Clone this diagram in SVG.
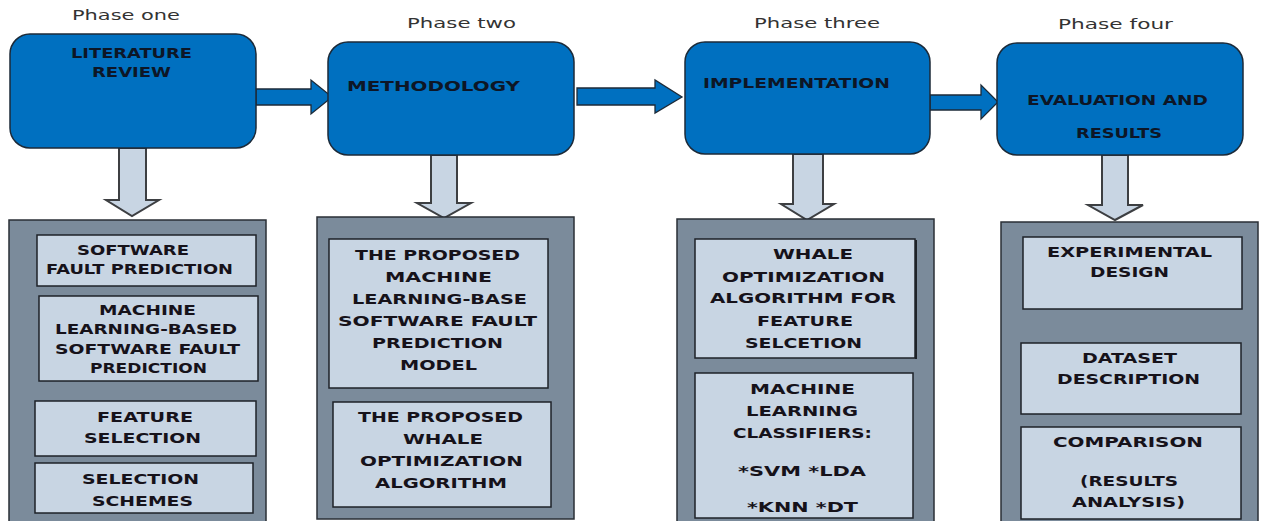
<svg xmlns="http://www.w3.org/2000/svg" width="1261" height="521" viewBox="0 0 1261 521">
<style>
.phase{font-family:"DejaVu Sans","Verdana",sans-serif;font-size:13.5px;fill:#333;}
.main{fill:#0070C0;stroke:#1c2a38;stroke-width:1.5;}
.mt{font-family:"DejaVu Sans",sans-serif;font-weight:bold;font-size:14.5px;fill:#0d1626;}
.outer{fill:#7b8b9b;stroke:#2a2f36;stroke-width:1.5;}
.inner{fill:#c8d5e3;stroke:#1e2228;stroke-width:1.5;}
.it{font-family:"DejaVu Sans",sans-serif;font-weight:bold;font-size:14.5px;fill:#16121a;text-anchor:middle;}
.harrow{fill:#0070C0;stroke:#1c2a38;stroke-width:1.3;}
.varrow{fill:#c8d5e3;stroke:#3d3f42;stroke-width:2;}
</style>
<rect width="1261" height="521" fill="#ffffff"/>

<g id="phase-labels">
<text class="phase" x="72" y="19.5" textLength="108" lengthAdjust="spacingAndGlyphs">Phase one</text>
<text class="phase" x="407" y="28" textLength="109" lengthAdjust="spacingAndGlyphs">Phase two</text>
<text class="phase" x="754" y="28" textLength="126" lengthAdjust="spacingAndGlyphs">Phase three</text>
<text class="phase" x="1058" y="29" textLength="115" lengthAdjust="spacingAndGlyphs">Phase four</text>
</g>

<g id="connectors">
<polygon class="harrow" points="256,89 311,89 311,80 332,97 311,114 311,105 256,105"/>
<polygon class="harrow" points="577,88 655,88 655,80 682,97 655,113 655,105 577,105"/>
<polygon class="harrow" points="930,95 981,95 981,85 998,102 981,119 981,110 930,110"/>
<polygon class="varrow" points="119,148 146,148 146,200 159,200 132,216 106,200 119,200"/>
<polygon class="varrow" points="431,155 457,155 457,203 471,203 444,218 417,203 431,203"/>
<polygon class="varrow" points="793,154 823,154 823,204 834,204 807,220 781,204 793,204"/>
<polygon class="varrow" points="1102,155 1128,155 1128,205 1143,205 1115,220 1088,205 1102,205"/>
</g>

<g id="literature-review">
<rect class="main" x="10" y="34" width="246" height="114" rx="20"/>
<text class="mt" x="71" y="58" textLength="121" lengthAdjust="spacingAndGlyphs">LITERATURE</text>
<text class="mt" x="92" y="77" textLength="79" lengthAdjust="spacingAndGlyphs">REVIEW</text>
</g>
<g id="methodology">
<rect class="main" x="328" y="42" width="246" height="113" rx="20"/>
<text class="mt" x="347" y="91" textLength="173" lengthAdjust="spacingAndGlyphs">METHODOLOGY</text>
</g>
<g id="implementation">
<rect class="main" x="685" y="42" width="245" height="112" rx="20"/>
<text class="mt" x="703" y="88" textLength="187" lengthAdjust="spacingAndGlyphs">IMPLEMENTATION</text>
</g>
<g id="evaluation">
<rect class="main" x="997" y="43" width="246" height="112" rx="20"/>
<text class="mt" x="1027" y="105" textLength="181" lengthAdjust="spacingAndGlyphs">EVALUATION AND</text>
<text class="mt" x="1076" y="138" textLength="86" lengthAdjust="spacingAndGlyphs">RESULTS</text>
</g>

<g id="phase-one-details">
<rect class="outer" x="9" y="220" width="257" height="310"/>
<rect class="inner" x="37" y="235" width="219" height="51"/>
<text class="it" x="133" y="255" textLength="112" lengthAdjust="spacingAndGlyphs">SOFTWARE</text>
<text class="it" x="139.5" y="274" textLength="187" lengthAdjust="spacingAndGlyphs">FAULT PREDICTION</text>
<rect class="inner" x="39" y="296" width="219" height="85"/>
<text class="it" x="147.5" y="315" textLength="97" lengthAdjust="spacingAndGlyphs">MACHINE</text>
<text class="it" x="146" y="334" textLength="182" lengthAdjust="spacingAndGlyphs">LEARNING-BASED</text>
<text class="it" x="147.5" y="354" textLength="185" lengthAdjust="spacingAndGlyphs">SOFTWARE FAULT</text>
<text class="it" x="148.5" y="373" textLength="117" lengthAdjust="spacingAndGlyphs">PREDICTION</text>
<rect class="inner" x="35" y="401" width="221" height="55"/>
<text class="it" x="145" y="422" textLength="96" lengthAdjust="spacingAndGlyphs">FEATURE</text>
<text class="it" x="142.5" y="443" textLength="117" lengthAdjust="spacingAndGlyphs">SELECTION</text>
<rect class="inner" x="35" y="463" width="218" height="50"/>
<text class="it" x="140.5" y="484" textLength="117" lengthAdjust="spacingAndGlyphs">SELECTION</text>
<text class="it" x="142.5" y="506" textLength="101" lengthAdjust="spacingAndGlyphs">SCHEMES</text>
</g>

<g id="phase-two-details">
<rect class="outer" x="317" y="217" width="257" height="302"/>
<rect class="inner" x="329" y="239" width="219" height="149"/>
<text class="it" x="437.5" y="260" textLength="165" lengthAdjust="spacingAndGlyphs">THE PROPOSED</text>
<text class="it" x="438.5" y="282" textLength="107" lengthAdjust="spacingAndGlyphs">MACHINE</text>
<text class="it" x="439.5" y="304" textLength="175" lengthAdjust="spacingAndGlyphs">LEARNING-BASE</text>
<text class="it" x="437.5" y="326" textLength="199" lengthAdjust="spacingAndGlyphs">SOFTWARE FAULT</text>
<text class="it" x="437.5" y="348" textLength="131" lengthAdjust="spacingAndGlyphs">PREDICTION</text>
<text class="it" x="438.5" y="370" textLength="77" lengthAdjust="spacingAndGlyphs">MODEL</text>
<rect class="inner" x="333" y="402" width="218" height="105"/>
<text class="it" x="440.5" y="422" textLength="165" lengthAdjust="spacingAndGlyphs">THE PROPOSED</text>
<text class="it" x="443" y="444" textLength="80" lengthAdjust="spacingAndGlyphs">WHALE</text>
<text class="it" x="441.5" y="466" textLength="163" lengthAdjust="spacingAndGlyphs">OPTIMIZATION</text>
<text class="it" x="441" y="488" textLength="132" lengthAdjust="spacingAndGlyphs">ALGORITHM</text>
</g>

<g id="phase-three-details">
<rect class="outer" x="677" y="219" width="257" height="311"/>
<rect class="inner" x="695" y="239" width="220" height="119"/>
<line x1="916" y1="240" x2="916" y2="359" stroke="#1e2228" stroke-width="2"/>
<text class="it" x="813" y="259" textLength="80" lengthAdjust="spacingAndGlyphs">WHALE</text>
<text class="it" x="803.5" y="282" textLength="163" lengthAdjust="spacingAndGlyphs">OPTIMIZATION</text>
<text class="it" x="803" y="303" textLength="186" lengthAdjust="spacingAndGlyphs">ALGORITHM FOR</text>
<text class="it" x="805" y="326" textLength="96" lengthAdjust="spacingAndGlyphs">FEATURE</text>
<text class="it" x="803.5" y="348" textLength="117" lengthAdjust="spacingAndGlyphs">SELCETION</text>
<rect class="inner" x="695" y="373" width="218" height="145"/>
<text class="it" x="802.5" y="394" textLength="105" lengthAdjust="spacingAndGlyphs">MACHINE</text>
<text class="it" x="802" y="416" textLength="112" lengthAdjust="spacingAndGlyphs">LEARNING</text>
<text class="it" x="802.5" y="438" textLength="139" lengthAdjust="spacingAndGlyphs">CLASSIFIERS:</text>
<text class="it" x="802" y="476" textLength="128" lengthAdjust="spacingAndGlyphs">*SVM *LDA</text>
<text class="it" x="802.5" y="512" textLength="111" lengthAdjust="spacingAndGlyphs">*KNN *DT</text>
</g>

<g id="phase-four-details">
<rect class="outer" x="1001" y="222" width="257" height="308"/>
<rect class="inner" x="1023" y="237" width="219" height="72"/>
<text class="it" x="1129.5" y="257" textLength="165" lengthAdjust="spacingAndGlyphs">EXPERIMENTAL</text>
<text class="it" x="1129.5" y="277" textLength="79" lengthAdjust="spacingAndGlyphs">DESIGN</text>
<rect class="inner" x="1021" y="343" width="220" height="71"/>
<text class="it" x="1129.5" y="363" textLength="95" lengthAdjust="spacingAndGlyphs">DATASET</text>
<text class="it" x="1128.5" y="384" textLength="143" lengthAdjust="spacingAndGlyphs">DESCRIPTION</text>
<rect class="inner" x="1021" y="427" width="220" height="92"/>
<text class="it" x="1128" y="447" textLength="150" lengthAdjust="spacingAndGlyphs">COMPARISON</text>
<text class="it" x="1129" y="486" textLength="98" lengthAdjust="spacingAndGlyphs">(RESULTS</text>
<text class="it" x="1128.5" y="507" textLength="113" lengthAdjust="spacingAndGlyphs">ANALYSIS)</text>
</g>
</svg>
